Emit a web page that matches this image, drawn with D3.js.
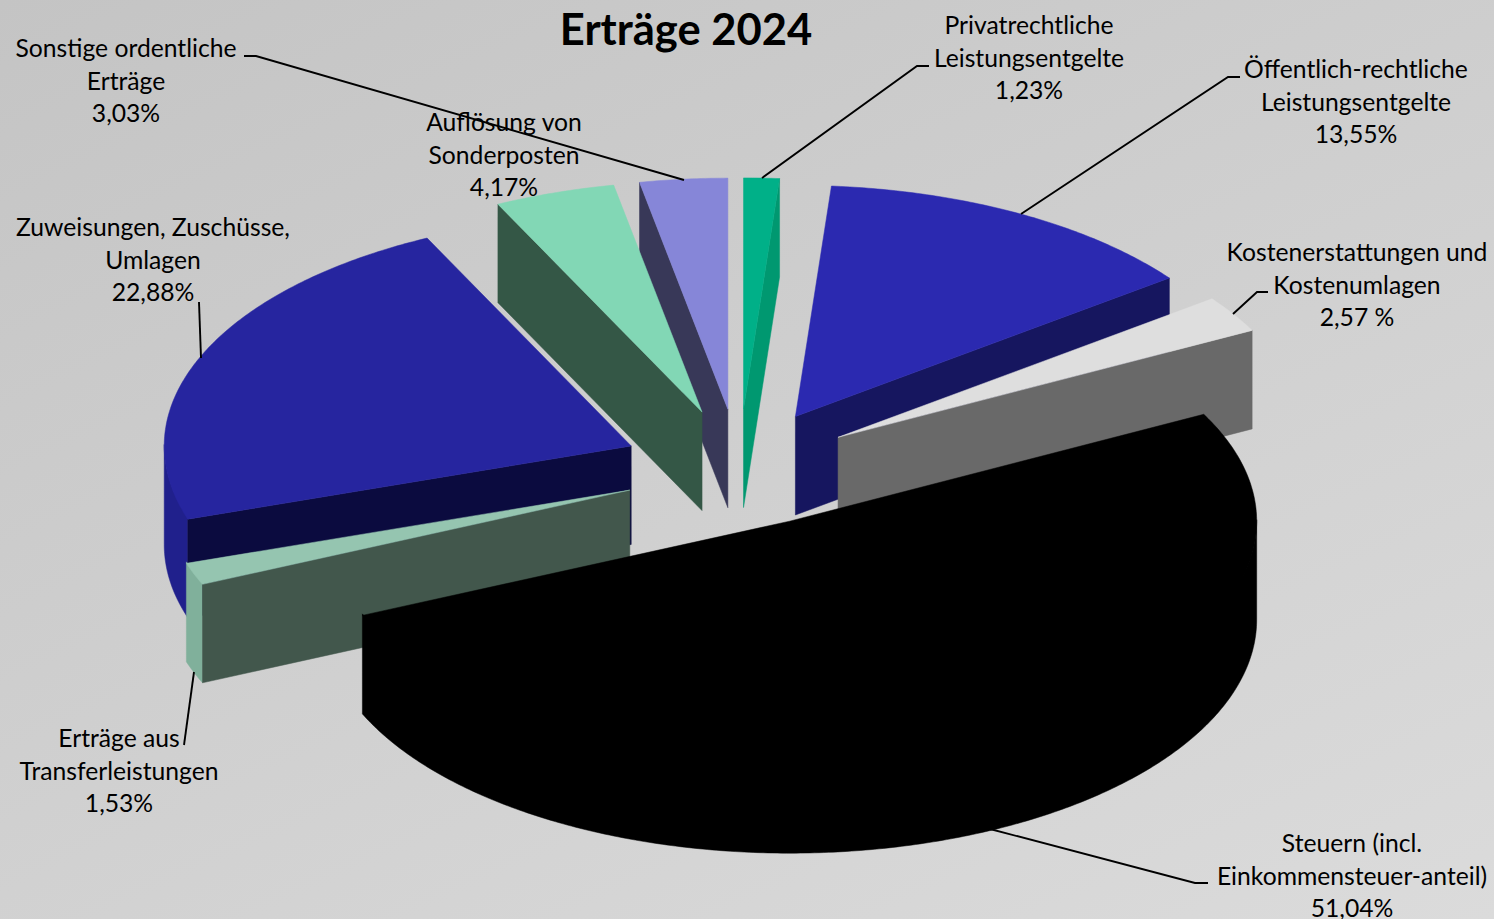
<!DOCTYPE html>
<html>
<head>
<meta charset="utf-8">
<script src="https://cdnjs.cloudflare.com/ajax/libs/d3/7.8.5/d3.min.js"></script>
<style>
html, body { margin: 0; padding: 0; background: #ccc; overflow: hidden; }
svg { display: block; }
text { font-family: Lato, "Open Sans", sans-serif; fill: #000; }
</style>
</head>
<body>
<div id="chart"></div>
<script>
var titleText = "Erträge 2024";

// clockwise from 12 o'clock
var categories = [
    ["Privatrechtliche", "Leistungsentgelte"],
    ["Öffentlich-rechtliche", "Leistungsentgelte"],
    ["Kostenerstattungen und", "Kostenumlagen"],
    ["Steuern (incl.", "Einkommensteuer-anteil)"],
    ["Erträge aus", "Transferleistungen"],
    ["Zuweisungen, Zuschüsse,", "Umlagen"],
    ["Auflösung von", "Sonderposten"],
    ["Sonstige ordentliche", "Erträge"]
];
var values = [1.23, 13.55, 2.57, 51.04, 1.53, 22.88, 4.17, 3.03];
var valueLabels = ["1,23%", "13,55%", "2,57 %", "51,04%", "1,53%", "22,88%", "4,17%", "3,03%"];

var topColors  = ["#00b088", "#2b29b0", "#dedede", "#000000", "#95c5b0", "#26259f", "#82d7b5", "#8686d8"];
var wallColors = ["#009870", "#16165f", "#696969", "#000000", "#42574c", "#0b0b3f", "#345746", "#383858"];
var rimColors  = ["#00a47c", "#201f90", "#a0a0a0", "#000000", "#80b09b", "#20208c", "#6fb89a", "#7070b8"];

// label centre x, first baseline y
var labelX = [1029, 1356, 1357, 1352, 119, 153, 504, 126];
var labelY = [34, 78, 261, 852, 747, 236, 131, 57];

// leader lines, one per label
var leaders = [
    [[762, 178], [917, 66], [929, 66]],
    [[1021, 214], [1228, 77], [1240, 77]],
    [[1233, 314], [1257, 292], [1268, 292]],
    [[990, 829], [1195, 883], [1208, 883]],
    [[194, 672], [184, 745]],
    [[199, 302], [201, 358]],
    null,
    [[244, 56], [256, 56], [684, 180]]
];

// slices are painted in this order, the big black one last
var drawOrder = [0, 7, 6, 1, 5, 2, 4, 3];

var width = 1494, height = 919;
var cx = 739, cy = 469.5;
var radius = 467;
var tiltBack = 0.495, tiltFront = 0.5;
var explode = 117, explodeTiltBack = 0.517, explodeTiltFront = 0.49;
var depth = 98.5;
var lineGap = 32.5;

var svg = d3.select("#chart").append("svg")
    .attr("width", width)
    .attr("height", height);

var grad = svg.append("defs").append("linearGradient")
    .attr("id", "bg")
    .attr("gradientUnits", "userSpaceOnUse")
    .attr("x1", 0).attr("y1", 0)
    .attr("x2", 589).attr("y2", 1323);
grad.append("stop").attr("offset", "0").attr("stop-color", "#c4c4c4");
grad.append("stop").attr("offset", "1").attr("stop-color", "#dbdbdb");

svg.append("rect")
    .attr("width", width)
    .attr("height", height)
    .attr("fill", "url(#bg)");

var pie = d3.pie().sort(null).value(function(d){ return d; });
var arcs = pie(values);

var line = d3.line();

// apex of an exploded slice on screen
function apexOf( a ){
    var mid = (a.startAngle + a.endAngle) / 2;
    var c = Math.cos(mid);
    return [ cx + explode * Math.sin(mid), cy - explode * (c > 0 ? explodeTiltBack : explodeTiltFront) * c ];
}

function rimPoint( apex, angle, drop ){
    var c = Math.cos(angle);
    return [ apex[0] + radius * Math.sin(angle), apex[1] - radius * (c > 0 ? tiltBack : tiltFront) * c + drop ];
}

function anglesBetween( a0, a1 ){
    var n = Math.max( 2, Math.ceil( (a1 - a0) / 0.01 ) );
    return d3.range( n + 1 ).map(function(i){ return a0 + (a1 - a0) * i / n; });
}

function radialWall( apex, angle ){
    return line([
        apex,
        rimPoint( apex, angle, 0 ),
        rimPoint( apex, angle, depth ),
        [ apex[0], apex[1] + depth ]
    ]) + "Z";
}

function addFace( parent, d, color ){
    parent.append("path")
        .attr("d", d)
        .attr("fill", color)
        .attr("stroke", color)
        .attr("stroke-width", 0.5)
        .attr("stroke-linejoin", "round");
}

var g = svg.append("g");

drawOrder.forEach(function(i){
    var a = arcs[i];
    var apex = apexOf( a );
    var slice = g.append("g");

    // outer wall only where it faces the viewer
    var r0 = Math.max( a.startAngle, Math.PI / 2 );
    var r1 = Math.min( a.endAngle, Math.PI * 3 / 2 );
    if( r0 < r1 ){
        var angles = anglesBetween( r0, r1 );
        // starts a little above the rim so no seam shows under the top face
        var upper = angles.map(function(t){ return rimPoint( apex, t, -1.5 ); });
        var lower = angles.map(function(t){ return rimPoint( apex, t, depth ); }).reverse();
        addFace( slice, line( upper.concat( lower ) ) + "Z", rimColors[i] );
    }

    // cut faces
    if( Math.sin( a.startAngle ) < 0 ){
        addFace( slice, radialWall( apex, a.startAngle ), wallColors[i] );
    }
    if( Math.sin( a.endAngle ) > 0 ){
        addFace( slice, radialWall( apex, a.endAngle ), wallColors[i] );
    }

    // top face
    var face = [ apex ].concat( anglesBetween( a.startAngle, a.endAngle ).map(function(t){
        return rimPoint( apex, t, 0 );
    }));
    addFace( slice, line( face ) + "Z", topColors[i] );
});

// leader lines
svg.append("g").selectAll("path")
    .data( leaders.filter(function(d){ return d; }) )
    .enter().append("path")
    .attr("d", function(d){ return line( d ); })
    .attr("fill", "none")
    .attr("stroke", "#000")
    .attr("stroke-width", 1.9);

// labels
var labels = svg.append("g").selectAll("text")
    .data( categories )
    .enter().append("text")
    .attr("text-anchor", "middle")
    .attr("font-size", 24.7);

labels.each(function(d, i){
    var t = d3.select(this);
    d.concat( valueLabels[i] ).forEach(function(s, j){
        t.append("tspan")
            .attr("x", labelX[i])
            .attr("y", labelY[i] + j * lineGap)
            .text( s );
    });
});

svg.append("text")
    .attr("x", 686)
    .attr("y", 45)
    .attr("text-anchor", "middle")
    .attr("font-size", 43.5)
    .attr("font-weight", "bold")
    .text( titleText );
</script>
</body>
</html>
